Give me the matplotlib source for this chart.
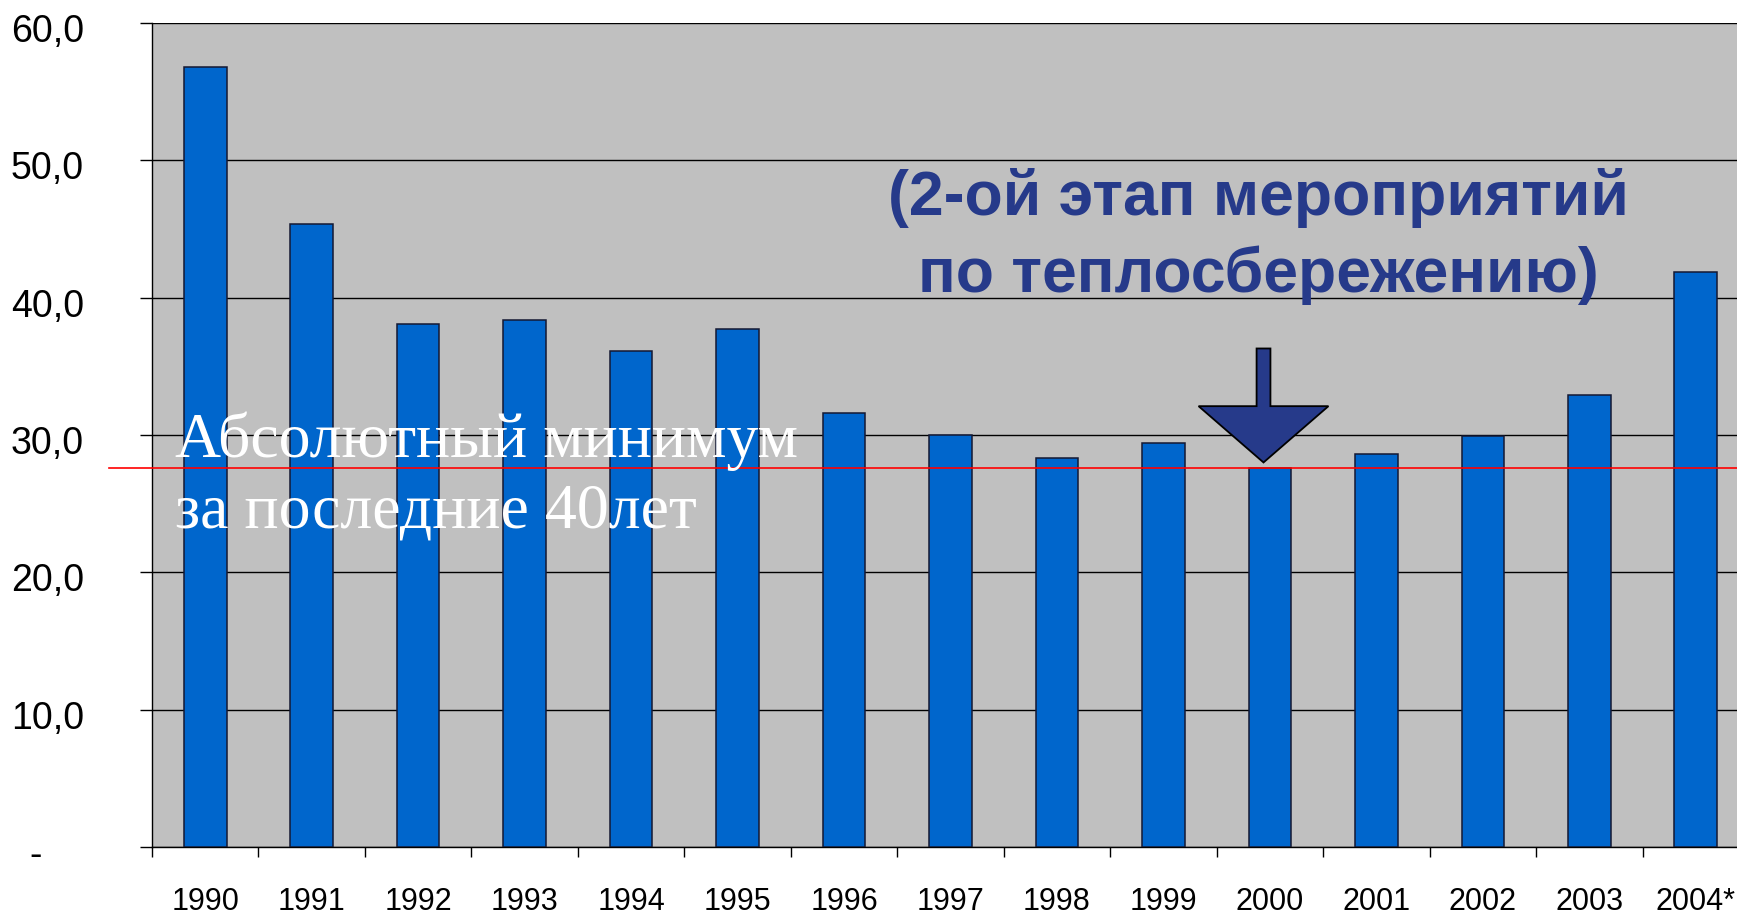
import numpy as np
import matplotlib
matplotlib.use('Agg')
import matplotlib.pyplot as plt
import matplotlib.transforms as mtransforms
from matplotlib.patches import FancyArrow
from matplotlib.ticker import FixedLocator

# ---------------------------------------------------------------- data
years = ['1990', '1991', '1992', '1993', '1994', '1995', '1996', '1997',
         '1998', '1999', '2000', '2001', '2002', '2003', '2004*']
values = [56.8, 45.4, 38.1, 38.4, 36.1, 37.7, 31.6, 30.0,
          28.3, 29.4, 27.6, 28.6, 29.9, 32.9, 41.9]
y_ticks = [0, 10, 20, 30, 40, 50, 60]
y_tick_labels = ['-    ', '10,0', '20,0', '30,0', '40,0', '50,0', '60,0']
min_level = 27.6

note_top = ['(2-ой этап мероприятий', 'по теплосбережению)']
note_min = 'Абсолютный минимум\nза последние 40лет'

# ---------------------------------------------------------------- style
bar_color = '#0066CC'
bg_color = '#C0C0C0'
navy = '#263A8A'

W, H = 1737, 916
fig = plt.figure(figsize=(W / 100, H / 100), dpi=100)
# axes runs past the right edge of the figure, as in the original slide
ax = fig.add_axes([152 / W, 69 / H, 1597 / W, 824 / H])
ax.set_facecolor(bg_color)

x = np.arange(len(years))
ax.bar(x, values, width=0.40, color=bar_color, edgecolor='#141833',
       linewidth=1.1, zorder=3)

ax.set_xlim(-0.5, len(years) - 0.5)
ax.set_ylim(0, 60)

# grid
ax.yaxis.grid(True, color='black', linewidth=1.0)
ax.set_axisbelow(True)
for s in ['top', 'right']:
    ax.spines[s].set_visible(False)
ax.spines['left'].set_linewidth(1.0)
ax.spines['bottom'].set_linewidth(1.0)

# y axis
ax.set_yticks(y_ticks)
ax.set_yticklabels(y_tick_labels, family='Liberation Sans', fontsize=27)
ax.tick_params(axis='y', length=9, width=1.0, pad=40, direction='out')
shift_down = mtransforms.ScaledTranslation(0, -0.09, fig.dpi_scale_trans)
for lab in ax.get_yticklabels():
    lab.set_verticalalignment('center')
    lab.set_transform(lab.get_transform() + shift_down)

# x axis: labels at centres, tick marks between categories
ax.set_xticks(x)
ax.set_xticklabels(years, family='Liberation Sans', fontsize=22)
ax.tick_params(axis='x', which='major', length=0, pad=29)
ax.xaxis.set_minor_locator(FixedLocator(np.arange(len(years) + 1) - 0.5))
ax.tick_params(axis='x', which='minor', length=7, width=1.0, direction='out')

# red line of the absolute minimum
ax.axhline(min_level, xmin=-0.027, xmax=1, color='red', linewidth=1.2,
           clip_on=False, zorder=4)

ax.text(-0.285, 23.3, note_min, family='Liberation Serif', fontsize=46,
        color='white', ha='left', va='baseline', linespacing=1.27, zorder=5)

# arrow pointing at the 2000 bar
i2000 = years.index('2000')
ax.add_patch(FancyArrow(i2000 - 0.06, 36.3, 0, -(36.3 - min_level - 0.4),
                        width=0.13, head_width=1.22, head_length=4.1,
                        length_includes_head=True, facecolor=navy,
                        edgecolor='black', linewidth=1.3, zorder=5))

ax.text(9.89, 46.0, note_top[0], family='Liberation Sans', fontweight='bold',
        fontsize=45, color=navy, ha='center', va='baseline', zorder=5)
ax.text(9.89, 40.4, note_top[1], family='Liberation Sans', fontweight='bold',
        fontsize=45, color=navy, ha='center', va='baseline', zorder=5)

fig.savefig('out.png', dpi=100, facecolor='white')
